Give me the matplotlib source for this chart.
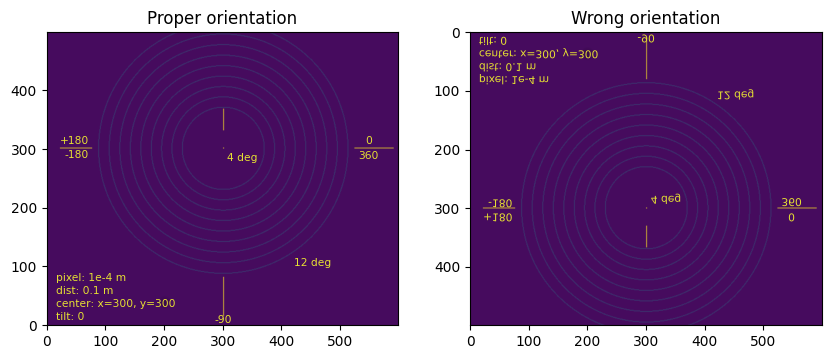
import numpy as np
import matplotlib
matplotlib.use('Agg')
import matplotlib.pyplot as plt
from matplotlib import patheffects
from matplotlib.transforms import Affine2D

# detector geometry
img_h, img_w = 500, 600
center_x, center_y = 300, 300
pixel_size = 1e-4   # m
distance = 0.1      # m
ring_angles = [4, 5, 6, 7, 8, 9, 10, 11, 12]   # deg

# orientation marks (x0, x1, y0, y1) in pixels
marks_x0 = [300, 300, 22, 524]
marks_x1 = [300, 300, 76, 590]
marks_y0 = [331, 15, 300, 300]
marks_y1 = [367, 81, 300, 300]

# dark spot
spot_x, spot_y, spot_r = 200, 38, 12

# labels drawn on the detector
label_texts = ['+180', '-180', '0', '360', '-90', '4 deg', '12 deg',
               'pixel: 1e-4 m', 'dist: 0.1 m', 'center: x=300, y=300', 'tilt: 0']
label_x = [72, 72, 548, 548, 300, 308, 421, 15, 15, 15, 15]
label_y = [314, 290, 314, 288, 9, 284, 106, 80, 58, 36, 13]
label_ha = ['right', 'right', 'center', 'center', 'center', 'left', 'left',
            'left', 'left', 'left', 'left']

# colours as they come out on the downsampled detector picture
cmap = plt.cm.viridis
bg = np.array(cmap(0.03)[:3])
ring_col = 0.74 * bg + 0.26 * np.array(cmap(0.45)[:3])
mark_col = 0.42 * bg + 0.58 * np.array(cmap(1.0)[:3])

# build the image
yy, xx = np.mgrid[0:img_h, 0:img_w]
rgb = np.ones((img_h, img_w, 3)) * bg
rr = np.hypot(xx - center_x, yy - center_y)
for a in ring_angles:
    r_pix = distance * np.tan(np.radians(a)) / pixel_size
    rgb[np.abs(rr - r_pix) < 1.0] = ring_col
spot = np.hypot(xx - spot_x, yy - spot_y)
shade = np.clip(0.75 + 0.25 * spot / spot_r, 0.75, 1.0)
rgb = rgb * shade[..., None]
for x0, x1, y0, y1 in zip(marks_x0, marks_x1, marks_y0, marks_y1):
    if x0 == x1:
        rgb[y0:y1 + 1, x0:x0 + 2] = mark_col
    else:
        rgb[y0:y0 + 2, x0:x1 + 1] = mark_col
rgb[center_y:center_y + 2, center_x:center_x + 2] = mark_col


class VFlip(patheffects.AbstractPathEffect):
    # mirror text vertically about its anchor
    def __init__(self, text):
        super().__init__()
        self.text = text

    def draw_path(self, renderer, gc, tpath, affine, rgbFace=None):
        y0 = self.text.get_transform().transform(self.text.get_position())[1]
        flip = Affine2D().translate(0, -y0).scale(1, -1).translate(0, y0)
        renderer.draw_path(gc, tpath, affine + flip, rgbFace)


fig = plt.figure(figsize=(8.31, 3.59), dpi=100)
ax1 = fig.add_axes([46 / 831, 33.7 / 359, 353 / 831, 293.3 / 359])
ax2 = fig.add_axes([469.3 / 831, 33.7 / 359, 353 / 831, 293.3 / 359])

ax1.imshow(rgb, origin='lower')
ax1.set_title('Proper orientation')
ax2.imshow(rgb)
ax2.set_title('Wrong orientation')

txt_color = '#e6e033'
for s, x, y, ha in zip(label_texts, label_x, label_y, label_ha):
    ax1.text(x, y, s, ha=ha, va='center', fontsize=7.7, color=txt_color, clip_on=True)
    t = ax2.text(x, y, s, ha=ha, va='center', fontsize=7.7, color=txt_color, clip_on=True)
    t.set_path_effects([VFlip(t)])

fig.savefig('out.png', dpi=100)
